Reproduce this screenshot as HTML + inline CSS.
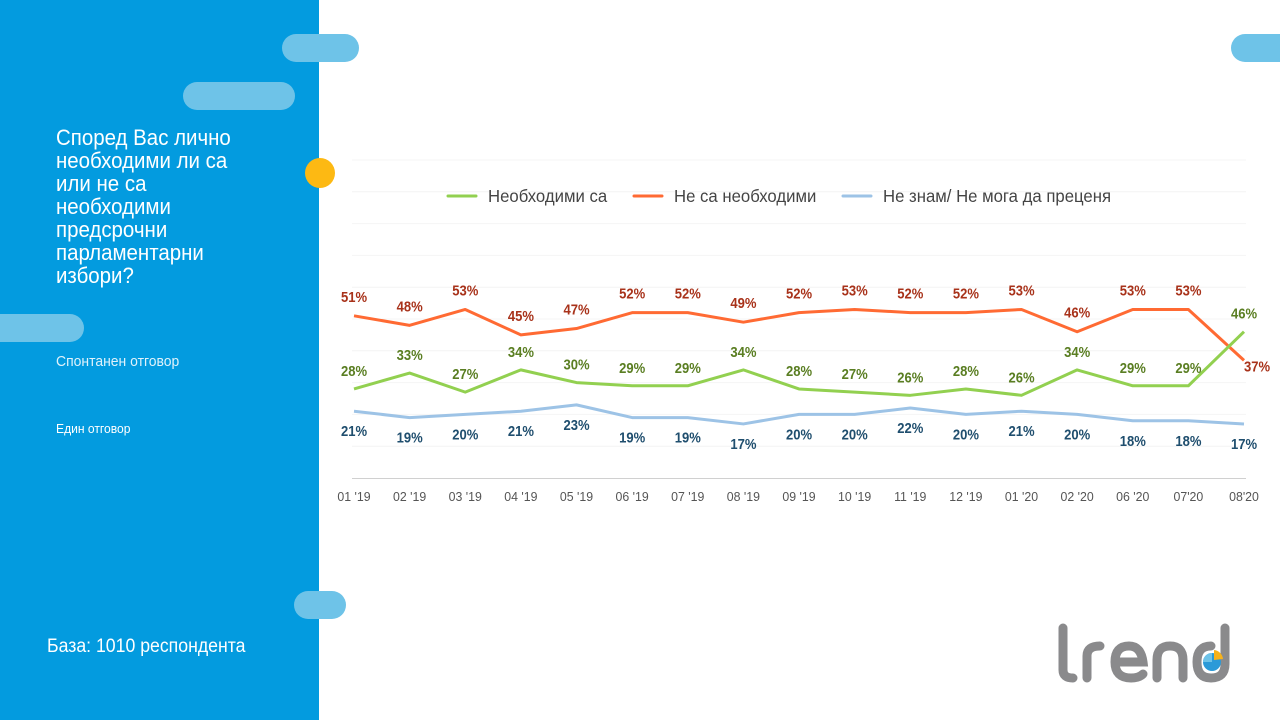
<!DOCTYPE html>
<html><head><meta charset="utf-8"><style>
body{margin:0;width:1280px;height:720px;overflow:hidden;background:#fff;font-family:"Liberation Sans Narrow","Liberation Sans",sans-serif;position:relative}
.panel{position:absolute;left:0;top:0;width:319px;height:720px;background:#039BDF}
.pill{position:absolute;background:#6EC3E8;border-radius:14px}
.t{position:absolute;color:#fff;transform-origin:0 0;transform:scaleX(.93)}
</style></head><body>
<div class="panel"></div>
<div class="pill" style="left:282px;top:34px;width:77px;height:28px"></div>
<div class="pill" style="left:183px;top:82px;width:112px;height:28px"></div>
<div class="pill" style="left:-14px;top:314px;width:98px;height:28px"></div>
<div class="pill" style="left:294px;top:591px;width:52px;height:28px"></div>
<div class="pill" style="left:1231px;top:34px;width:70px;height:28px"></div>
<div style="position:absolute;left:305px;top:158px;width:30px;height:30px;border-radius:50%;background:#FDB913"></div>
<div class="t" style="left:56px;top:126px;font-size:22px;line-height:23px;width:215px">Според Вас лично необходими ли са или не са необходими предсрочни парламентарни избори?</div>
<div class="t" style="left:56px;top:353px;font-size:15px;color:#e0f2fb">Спонтанен отговор</div>
<div class="t" style="left:56px;top:421px;font-size:13px">Един отговор</div>
<div class="t" style="left:47px;top:636px;font-size:19px">База: 1010 респондента</div>
<svg id="c" width="1280" height="720" style="position:absolute;left:0;top:0" font-family="Liberation Sans Narrow, Liberation Sans, sans-serif"></svg>
<svg width="180" height="70" style="position:absolute;left:1055px;top:620px" viewBox="0 0 180 70">
<g fill="none" stroke="#8a8a8c" stroke-width="9" stroke-linecap="round">
<path d="M8 8 V50 Q8 58 18 58"/>
<path d="M32 58 V36 Q32 26 45 26"/>
<path d="M60 42 H88 Q86 26 74 26 Q60 26 60 42 Q60 58 76 58 Q84 58 88 54"/>
<path d="M102 58 V40 Q102 26 115 26 Q128 26 128 40 V58"/>
<path d="M170 8 V44 Q170 58 156 58 Q142 58 142 42 Q142 26 156 26"/>
</g>
<circle cx="157" cy="42" r="9" fill="#2b9ad8"/>
<path d="M157 42 L157 33 A9 9 0 0 0 148 42 Z" fill="#6ec3e8"/>
<path d="M159 40 L159 30 A10 10 0 0 1 168 39 Z" fill="#f6b21b"/>
</svg>
<script>
const s=document.getElementById('c');let h='';
const x0=354,dx=(1244-354)/16,Y=v=>478-v*3.18;
for(let i=1;i<=10;i++){const y=478-i*31.8;h+=`<line x1="352" x2="1246" y1="${y}" y2="${y}" stroke="#f4f4f4" stroke-width="1"/>`;}
h+=`<line x1="352" x2="1246" y1="478.5" y2="478.5" stroke="#d0d0d0"/>`;
const T=(x,y,sz,c,t,w,a,k)=>`<text transform="translate(${x},${y}) scale(${k||.87},1)" font-size="${sz}" ${w?'font-weight="bold"':''} fill="${c}" text-anchor="${a||'middle'}">${t}</text>`;
const L=["01 '19","02 '19","03 '19","04 '19","05 '19","06 '19","07 '19","08 '19","09 '19","10 '19","11 '19","12 '19","01 '20","02 '20","06 '20","07'20","08'20"];
L.forEach((l,i)=>h+=T(x0+i*dx,501,13,'#555',l,0,'middle',.95));
const G=[28,33,27,34,30,29,29,34,28,27,26,28,26,34,29,29,46],O=[51,48,53,45,47,52,52,49,52,53,52,52,53,46,53,53,37],B=[21,19,20,21,23,19,19,17,20,20,22,20,21,20,18,18,17];
function line(d,c){h+=`<polyline fill="none" stroke="${c}" stroke-width="3" stroke-linejoin="round" points="${d.map((v,i)=>(x0+i*dx)+','+Y(v)).join(' ')}"/>`;}
line(B,'#9DC3E6');line(O,'#FF6A33');line(G,'#92D050');
function lab(d,c,off,last){d.forEach((v,i)=>{let x=x0+i*dx,y=Y(v)+off;if(last&&i==16){x=1257;y=Y(v)+11;}h+=T(x,y,15,c,v+'%',1);});}
lab(O,'#A8321A',-14,true);lab(G,'#5A7E22',-13);lab(B,'#1F4E6E',25);
[[448,'#92D050','Необходими са'],[634,'#FF6A33','Не са необходими'],[843,'#9DC3E6','Не знам/ Не мога да преценя']].forEach(([x,c,t])=>{h+=`<line x1="${x}" x2="${x+28}" y1="196" y2="196" stroke="${c}" stroke-width="3" stroke-linecap="round"/>`+T(x+40,202,18,'#444',t,0,'start',.93);});
s.innerHTML=h;
</script>
</body></html>
